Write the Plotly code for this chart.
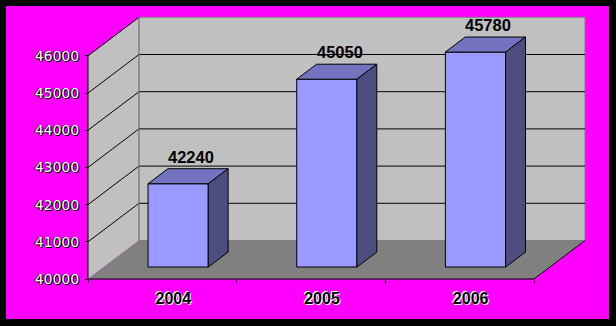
import plotly.graph_objects as go

# ---- data ----
categories = ["2004", "2005", "2006"]
values = [42240, 45050, 45780]
y_ticks = [40000, 41000, 42000, 43000, 44000, 45000, 46000]
y_tick_text = [str(v) for v in y_ticks]

# ---- geometry / style constants ----
Y0, YM = y_ticks[0], y_ticks[-1]
N = len(categories)
DX, DY = 0.343, 1035.0          # depth offset (category units, value units)
D0, D1 = 0.31, 0.70             # bar depth span (fraction of floor depth)
BW = 0.405                      # bar width in category units
PX_CAT = 148.67                 # px per category
PX_VAL = 0.0372                 # px per value unit
W, H = 616, 326
ML, MR, MT, MB = 6, 7, 6, 7
AX_X, AX_Y = 88, 279            # pixel position of front axes origin

pw, ph = W - ML - MR, H - MT - MB
x_range = [(ML - AX_X) / PX_CAT, (W - MR - AX_X) / PX_CAT]
y_range = [Y0 - (H - MB - AX_Y) / PX_VAL, Y0 + (AX_Y - MT) / PX_VAL]

WALL = "#C0C0C0"
FLOOR = "#808080"
FRONT = "#9999FF"
TOP = "#7373BF"
SIDE = "#4D4D80"
MAGENTA = "#FF00FF"

fig = go.Figure()


def poly(xs, ys, fill, line_color=None, lw=1):
    fig.add_trace(go.Scatter(
        x=list(xs) + [xs[0]], y=list(ys) + [ys[0]], mode="lines", fill="toself",
        fillcolor=fill,
        line=dict(color=line_color or fill, width=lw if line_color else 0),
        hoverinfo="skip", showlegend=False))


def lines(xs, ys, color, lw=1):
    fig.add_trace(go.Scatter(x=xs, y=ys, mode="lines",
                             line=dict(color=color, width=lw),
                             hoverinfo="skip", showlegend=False))


# side wall
poly([0, DX, DX, 0], [Y0, Y0 + DY, YM + DY, YM], WALL)
# back wall
poly([DX, N + DX, N + DX, DX], [Y0 + DY, Y0 + DY, YM + DY, YM + DY], WALL, "#808080")
# floor
poly([0, N, N + DX, DX], [Y0, Y0, Y0 + DY, Y0 + DY], FLOOR)

# back wall gridlines
gx, gy = [], []
for t in y_ticks[1:-1]:
    gx += [DX, N + DX, None]
    gy += [t + DY, t + DY, None]
lines(gx, gy, "#000000")
# side wall gridlines
sx, sy = [], []
for t in y_ticks[1:]:
    sx += [0, DX, None]
    sy += [t, t + DY, None]
lines(sx, sy, "#000000")
# back-left corner & bottom edge of back wall
lines([DX, DX, N + DX], [YM + DY, Y0 + DY, Y0 + DY], "#808080")
# front axis lines + floor right edge
lines([0, 0, N, N + DX], [YM, Y0, Y0, Y0 + DY], "#000000")

# bars
for i, v in enumerate(values):
    c = i + 0.5
    xl, xr = c - BW / 2 + DX * D0, c + BW / 2 + DX * D0
    yb, yt = Y0 + DY * D0, v + DY * D0
    bx, by = DX * (D1 - D0), DY * (D1 - D0)
    poly([xl, xr, xr, xl], [yb, yb, yt, yt], FRONT, "#000000")
    poly([xl, xr, xr + bx, xl + bx], [yt, yt, yt + by, yt + by], TOP, "#000000")
    poly([xr, xr + bx, xr + bx, xr], [yb, yb + by, yt + by, yt], SIDE, "#000000")
    fig.add_annotation(x=c + DX * (D0 + D1) / 2, y=v + DY * D1, text=str(v),
                       showarrow=False, yanchor="bottom", yshift=1, xshift=3,
                       font=dict(family="Liberation Sans, Arial", size=16.5,
                                 color="#000000", weight="bold"))

fig.update_layout(
    width=W, height=H,
    margin=dict(l=ML, r=MR, t=MT, b=MB, pad=0),
    paper_bgcolor="#000000",
    plot_bgcolor=MAGENTA,
    showlegend=False,
    xaxis=dict(range=x_range, anchor="free", position=(H - MB - AX_Y) / ph,
               tickvals=[i + 0.5 for i in range(N)], ticktext=categories,
               ticks="", showgrid=False, zeroline=False, showline=False,
               ticklabelshift=11, ticklabelstandoff=8,
               tickfont=dict(family="Liberation Sans, Arial", size=16,
                             color="#000000", weight="bold",
                             shadow="1px 1px 0 #ffffff, -1px -1px 0 #ffffff")),
    xaxis2=dict(range=x_range, overlaying="x", anchor="free",
                position=(H - MB - AX_Y) / ph, side="bottom",
                tickvals=list(range(N + 1)), showticklabels=False,
                ticks="outside", ticklen=3, tickcolor="#000000",
                showgrid=False, zeroline=False, showline=False),
    yaxis=dict(range=y_range, anchor="free", position=(AX_X - ML) / pw,
               tickvals=y_ticks, ticktext=y_tick_text,
               ticks="outside", ticklen=3, tickcolor="#000000",
               showgrid=False, zeroline=False, showline=False,
               ticklabelstandoff=3,
               tickfont=dict(family="DejaVu Sans", size=14, color="#FFFFFF",
                             shadow="1px 1px 0 #000000, -1px 0 0 #000000")),
)
# dummy trace on xaxis2 so its ticks render
fig.add_trace(go.Scatter(x=[None], y=[None], xaxis="x2", showlegend=False,
                         hoverinfo="skip"))

fig.write_html("out.html")
